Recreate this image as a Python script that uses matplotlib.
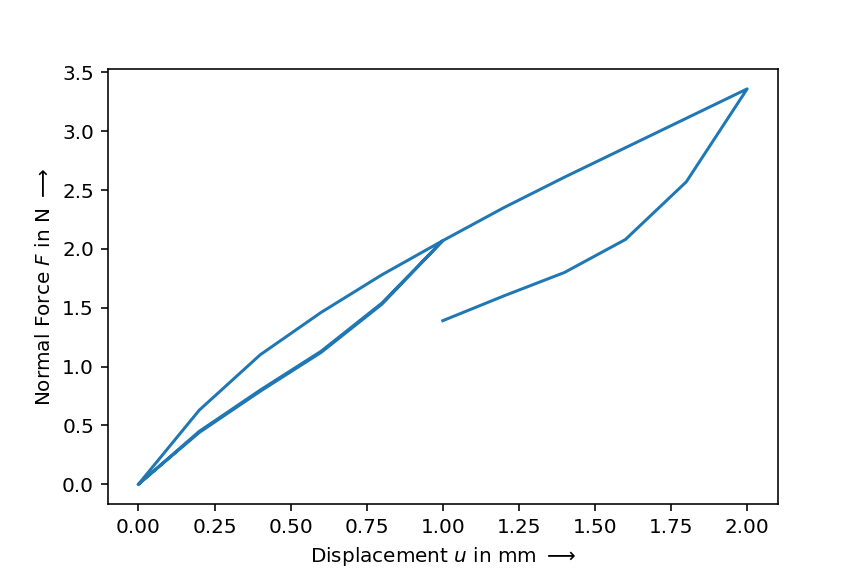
import numpy as np
import matplotlib
matplotlib.use("Agg")
import matplotlib.pyplot as plt

# first loading cycle up to 1 mm
u_load1 = [0.0, 0.2, 0.4, 0.6, 0.8, 1.0]
F_load1 = [0.0, 0.63, 1.10, 1.46, 1.78, 2.07]

# unloading back to 0
u_unload1 = [0.8, 0.6, 0.4, 0.2, 0.0]
F_unload1 = [1.54, 1.13, 0.80, 0.45, 0.0]

# reloading up to 2 mm
u_load2 = [0.2, 0.4, 0.6, 0.8, 1.0, 1.2, 1.4, 1.6, 1.8, 2.0]
F_load2 = [0.44, 0.79, 1.12, 1.53, 2.07, 2.35, 2.61, 2.86, 3.11, 3.36]

# unloading back to 1 mm
u_unload2 = [1.8, 1.6, 1.4, 1.2, 1.0]
F_unload2 = [2.57, 2.08, 1.80, 1.60, 1.39]

u = np.concatenate([u_load1, u_unload1, u_load2, u_unload2])
F = np.concatenate([F_load1, F_unload1, F_load2, F_unload2])

fig, ax = plt.subplots(figsize=(6, 4), dpi=144)
fig.subplots_adjust(left=0.125, right=0.9, bottom=0.125, top=0.88)
ax.plot(u, F)
ax.set_xlabel(r"Displacement $u$ in mm $\longrightarrow$")
ax.set_ylabel(r"Normal Force $F$ in N $\longrightarrow$")
fig.savefig("out.png")
